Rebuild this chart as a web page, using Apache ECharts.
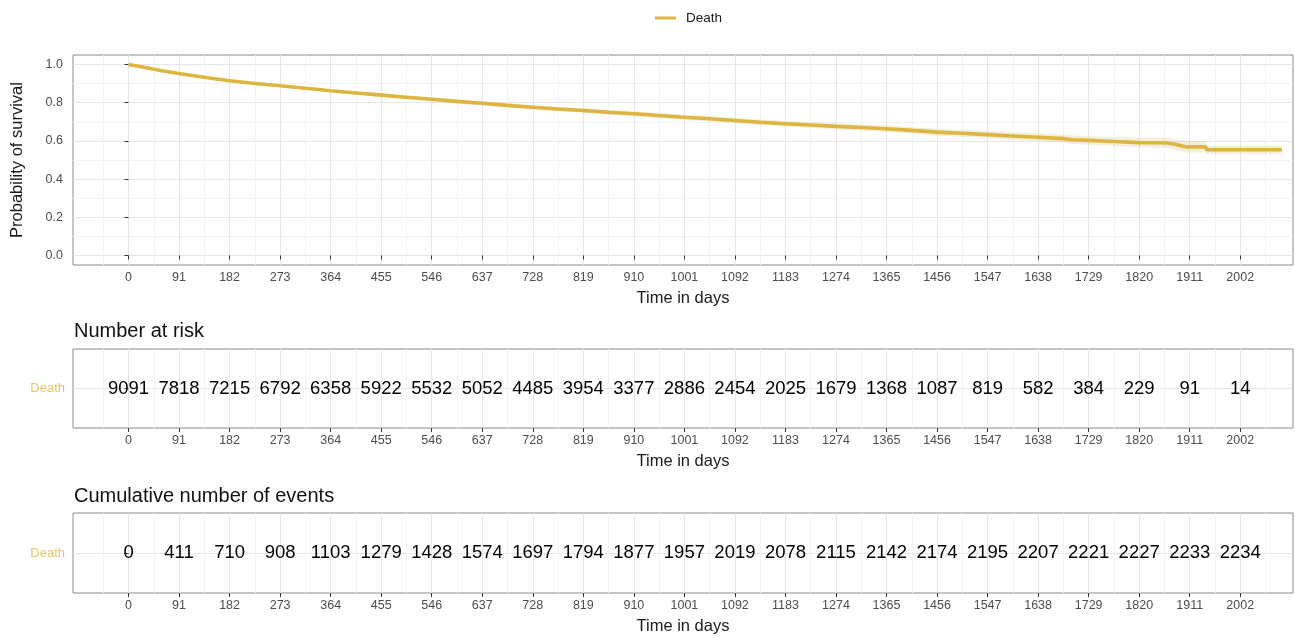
<!DOCTYPE html>
<html>
<head>
<meta charset="utf-8">
<script src="https://cdn.jsdelivr.net/npm/echarts@6/dist/echarts.min.js"></script>
<style>
  html, body {margin: 0; padding: 0; background: #fff;}
  #main {width: 1295px; height: 637px;}
</style>
</head>
<body>
<div id="main"></div>
<script>
// time breaks shown on every x axis
const timeBreaks = [0, 91, 182, 273, 364, 455, 546, 637, 728, 819, 910, 1001, 1092,
  1183, 1274, 1365, 1456, 1547, 1638, 1729, 1820, 1911, 2002];
const timeMinor = [-45.5, 45.5, 136.5, 227.5, 318.5, 409.5, 500.5, 591.5, 682.5, 773.5,
  864.5, 955.5, 1046.5, 1137.5, 1228.5, 1319.5, 1410.5, 1501.5, 1592.5, 1683.5, 1774.5,
  1865.5, 1956.5, 2047.5];
const probBreaks = [0, 0.2, 0.4, 0.6, 0.8, 1.0];
const probMinor = [0.1, 0.3, 0.5, 0.7, 0.9];

// survival curve
const survTime = [0, 30, 60, 91, 136, 182, 228, 273, 318, 364, 410, 455, 500, 546, 591,
  637, 682, 728, 773, 819, 864, 910, 955, 1001, 1046, 1092, 1137, 1183, 1228, 1274, 1320,
  1365, 1410, 1456, 1500, 1547, 1592, 1638, 1683, 1700, 1729, 1774, 1820, 1850, 1870,
  1880, 1890, 1900, 1905, 1940, 1941, 2077];
const survProb = [1.0, 0.984, 0.968, 0.953, 0.933, 0.915, 0.901, 0.889, 0.876, 0.863,
  0.851, 0.840, 0.829, 0.818, 0.807, 0.797, 0.786, 0.776, 0.767, 0.759, 0.750, 0.742,
  0.733, 0.724, 0.716, 0.707, 0.698, 0.690, 0.683, 0.676, 0.670, 0.664, 0.655, 0.646,
  0.640, 0.633, 0.626, 0.619, 0.612, 0.606, 0.603, 0.597, 0.591, 0.590, 0.589, 0.585,
  0.578, 0.572, 0.569, 0.569, 0.554, 0.554];
const survLower = [1.0, 0.982, 0.965, 0.949, 0.928, 0.909, 0.895, 0.882, 0.869, 0.855,
  0.843, 0.831, 0.820, 0.808, 0.797, 0.786, 0.775, 0.765, 0.755, 0.747, 0.737, 0.729,
  0.720, 0.711, 0.702, 0.693, 0.684, 0.675, 0.668, 0.660, 0.654, 0.647, 0.638, 0.628,
  0.621, 0.614, 0.606, 0.598, 0.590, 0.584, 0.580, 0.573, 0.566, 0.564, 0.562, 0.557,
  0.549, 0.542, 0.539, 0.539, 0.532, 0.532];
const survUpper = [1.0, 0.986, 0.971, 0.957, 0.938, 0.921, 0.907, 0.896, 0.883, 0.871,
  0.859, 0.849, 0.838, 0.828, 0.817, 0.808, 0.797, 0.787, 0.779, 0.771, 0.763, 0.755,
  0.746, 0.737, 0.730, 0.721, 0.712, 0.705, 0.698, 0.692, 0.686, 0.681, 0.672, 0.664,
  0.659, 0.652, 0.646, 0.640, 0.634, 0.628, 0.626, 0.621, 0.616, 0.616, 0.616, 0.613,
  0.607, 0.602, 0.599, 0.599, 0.576, 0.576];

// risk tables
const atRisk = [9091, 7818, 7215, 6792, 6358, 5922, 5532, 5052, 4485, 3954, 3377, 2886,
  2454, 2025, 1679, 1368, 1087, 819, 582, 384, 229, 91, 14];
const cumEvents = [0, 411, 710, 908, 1103, 1279, 1428, 1574, 1697, 1794, 1877, 1957, 2019,
  2078, 2115, 2142, 2174, 2195, 2207, 2221, 2227, 2233, 2234];

const strataName = 'Death';
const lineColor = '#DDB640';
const labelGrey = '#4D4D4D';
const font = 'Liberation Sans, Arial, sans-serif';

const chart = echarts.init(document.getElementById('main'));

const grids = [
  {left: 73, top: 55, width: 1220, height: 210},
  {left: 73, top: 349, width: 1220, height: 79},
  {left: 73, top: 513, width: 1220, height: 80},
].map(g => Object.assign(g, {show: true, borderColor: '#8C8C8C', borderWidth: 1,
  backgroundColor: '#fff', containLabel: false, outerBoundsMode: 'none'}));

function timeAxes(gridIndex) {
  return [
    {
      type: 'value', gridIndex, min: -100, max: 2097, position: 'bottom',
      axisLine: {show: false},
      axisTick: {show: true, length: 4, customValues: timeBreaks, lineStyle: {color: '#333'}},
      axisLabel: {customValues: timeBreaks, formatter: v => String(v), color: labelGrey,
        fontSize: 12.5, fontFamily: font, margin: 6},
      splitLine: {show: true, lineStyle: {color: '#E6E6E6', width: 1}},
      name: 'Time in days', nameLocation: 'middle', nameGap: 25,
      nameTextStyle: {color: '#1a1a1a', fontSize: 16.5, fontFamily: font},
    },
    {
      type: 'value', gridIndex, min: -100, max: 2097, position: 'top',
      axisLine: {show: false},
      axisTick: {show: false, customValues: timeMinor},
      axisLabel: {show: false, customValues: timeMinor},
      splitLine: {show: true, lineStyle: {color: '#F2F2F2', width: 1}},
    },
  ];
}

const xAxis = [].concat(timeAxes(0), timeAxes(1), timeAxes(2));

const tableY = gridIndex => ({
  type: 'value', gridIndex, min: 0.4, max: 1.6,
  axisLine: {show: false},
  axisTick: {show: true, length: 4, customValues: [1], lineStyle: {color: '#333'}},
  axisLabel: {customValues: [1], formatter: () => strataName, color: '#E6C763',
    fontSize: 13, fontFamily: font, margin: 8},
  splitLine: {show: true, lineStyle: {color: '#E6E6E6'}},
});

const yAxis = [
  {
    type: 'value', gridIndex: 0, min: -0.05, max: 1.05,
    axisLine: {show: false},
    axisTick: {show: true, length: 4, customValues: probBreaks, lineStyle: {color: '#333'}},
    axisLabel: {customValues: probBreaks, formatter: v => v.toFixed(1), color: labelGrey,
      fontSize: 12.5, fontFamily: font, margin: 10},
    splitLine: {show: true, lineStyle: {color: '#E6E6E6'}},
    name: 'Probability of survival', nameLocation: 'middle', nameGap: 47, nameRotate: 90,
    nameTextStyle: {color: '#1a1a1a', fontSize: 16.5, fontFamily: font},
  },
  {
    type: 'value', gridIndex: 0, min: -0.05, max: 1.05, position: 'right',
    axisLine: {show: false},
    axisTick: {show: false, customValues: probMinor},
    axisLabel: {show: false, customValues: probMinor},
    splitLine: {show: true, lineStyle: {color: '#F2F2F2'}},
  },
  tableY(1),
  tableY(2),
];

const tableSeries = (values, xi, yi) => ({
  type: 'scatter', xAxisIndex: xi, yAxisIndex: yi, symbolSize: 0, silent: true,
  itemStyle: {opacity: 1},
  data: values.map((v, i) => [timeBreaks[i], 1, v]),
  label: {show: true, position: 'inside', formatter: p => String(p.value[2]),
    color: '#000', fontSize: 18.5, fontFamily: font, textBorderWidth: 0},
});

// confidence band: one polygon, lower edge forwards then upper edge back
function renderBand(params, api) {
  if (params.dataIndex !== 0) return null;
  const pts = [];
  for (let i = 0; i < survTime.length; i++) pts.push(api.coord([survTime[i], survLower[i]]));
  for (let i = survTime.length - 1; i >= 0; i--) pts.push(api.coord([survTime[i], survUpper[i]]));
  return {type: 'polygon', shape: {points: pts}, style: {fill: 'rgba(215, 200, 150, 0.3)'}};
}

chart.setOption({
  animation: false,
  textStyle: {fontFamily: font},
  legend: {
    top: 6, left: 650, itemWidth: 21, itemHeight: 3, itemGap: 10,
    textStyle: {fontSize: 13.5, color: '#1a1a1a', fontFamily: font, padding: [0, 0, 0, 5]},
    data: [{name: strataName, icon: 'rect', itemStyle: {color: lineColor}}],
  },
  title: [
    {text: 'Number at risk', left: 69, top: 316,
      textStyle: {fontSize: 20, fontWeight: 'normal', color: '#111', fontFamily: font}},
    {text: 'Cumulative number of events', left: 69, top: 481,
      textStyle: {fontSize: 20, fontWeight: 'normal', color: '#111', fontFamily: font}},
  ],
  grid: grids,
  xAxis,
  yAxis,
  series: [
    {
      type: 'custom', xAxisIndex: 0, yAxisIndex: 0, silent: true, clip: true,
      renderItem: renderBand,
      data: survTime.map((t, i) => [t, survLower[i], survUpper[i]]),
    },
    {
      name: strataName, type: 'line', xAxisIndex: 0, yAxisIndex: 0,
      showSymbol: false, color: lineColor,
      lineStyle: {color: lineColor, width: 3.6},
      data: survTime.map((t, i) => [t, survProb[i]]),
    },
    tableSeries(atRisk, 2, 2),
    tableSeries(cumEvents, 4, 3),
  ],
});
</script>
</body>
</html>
